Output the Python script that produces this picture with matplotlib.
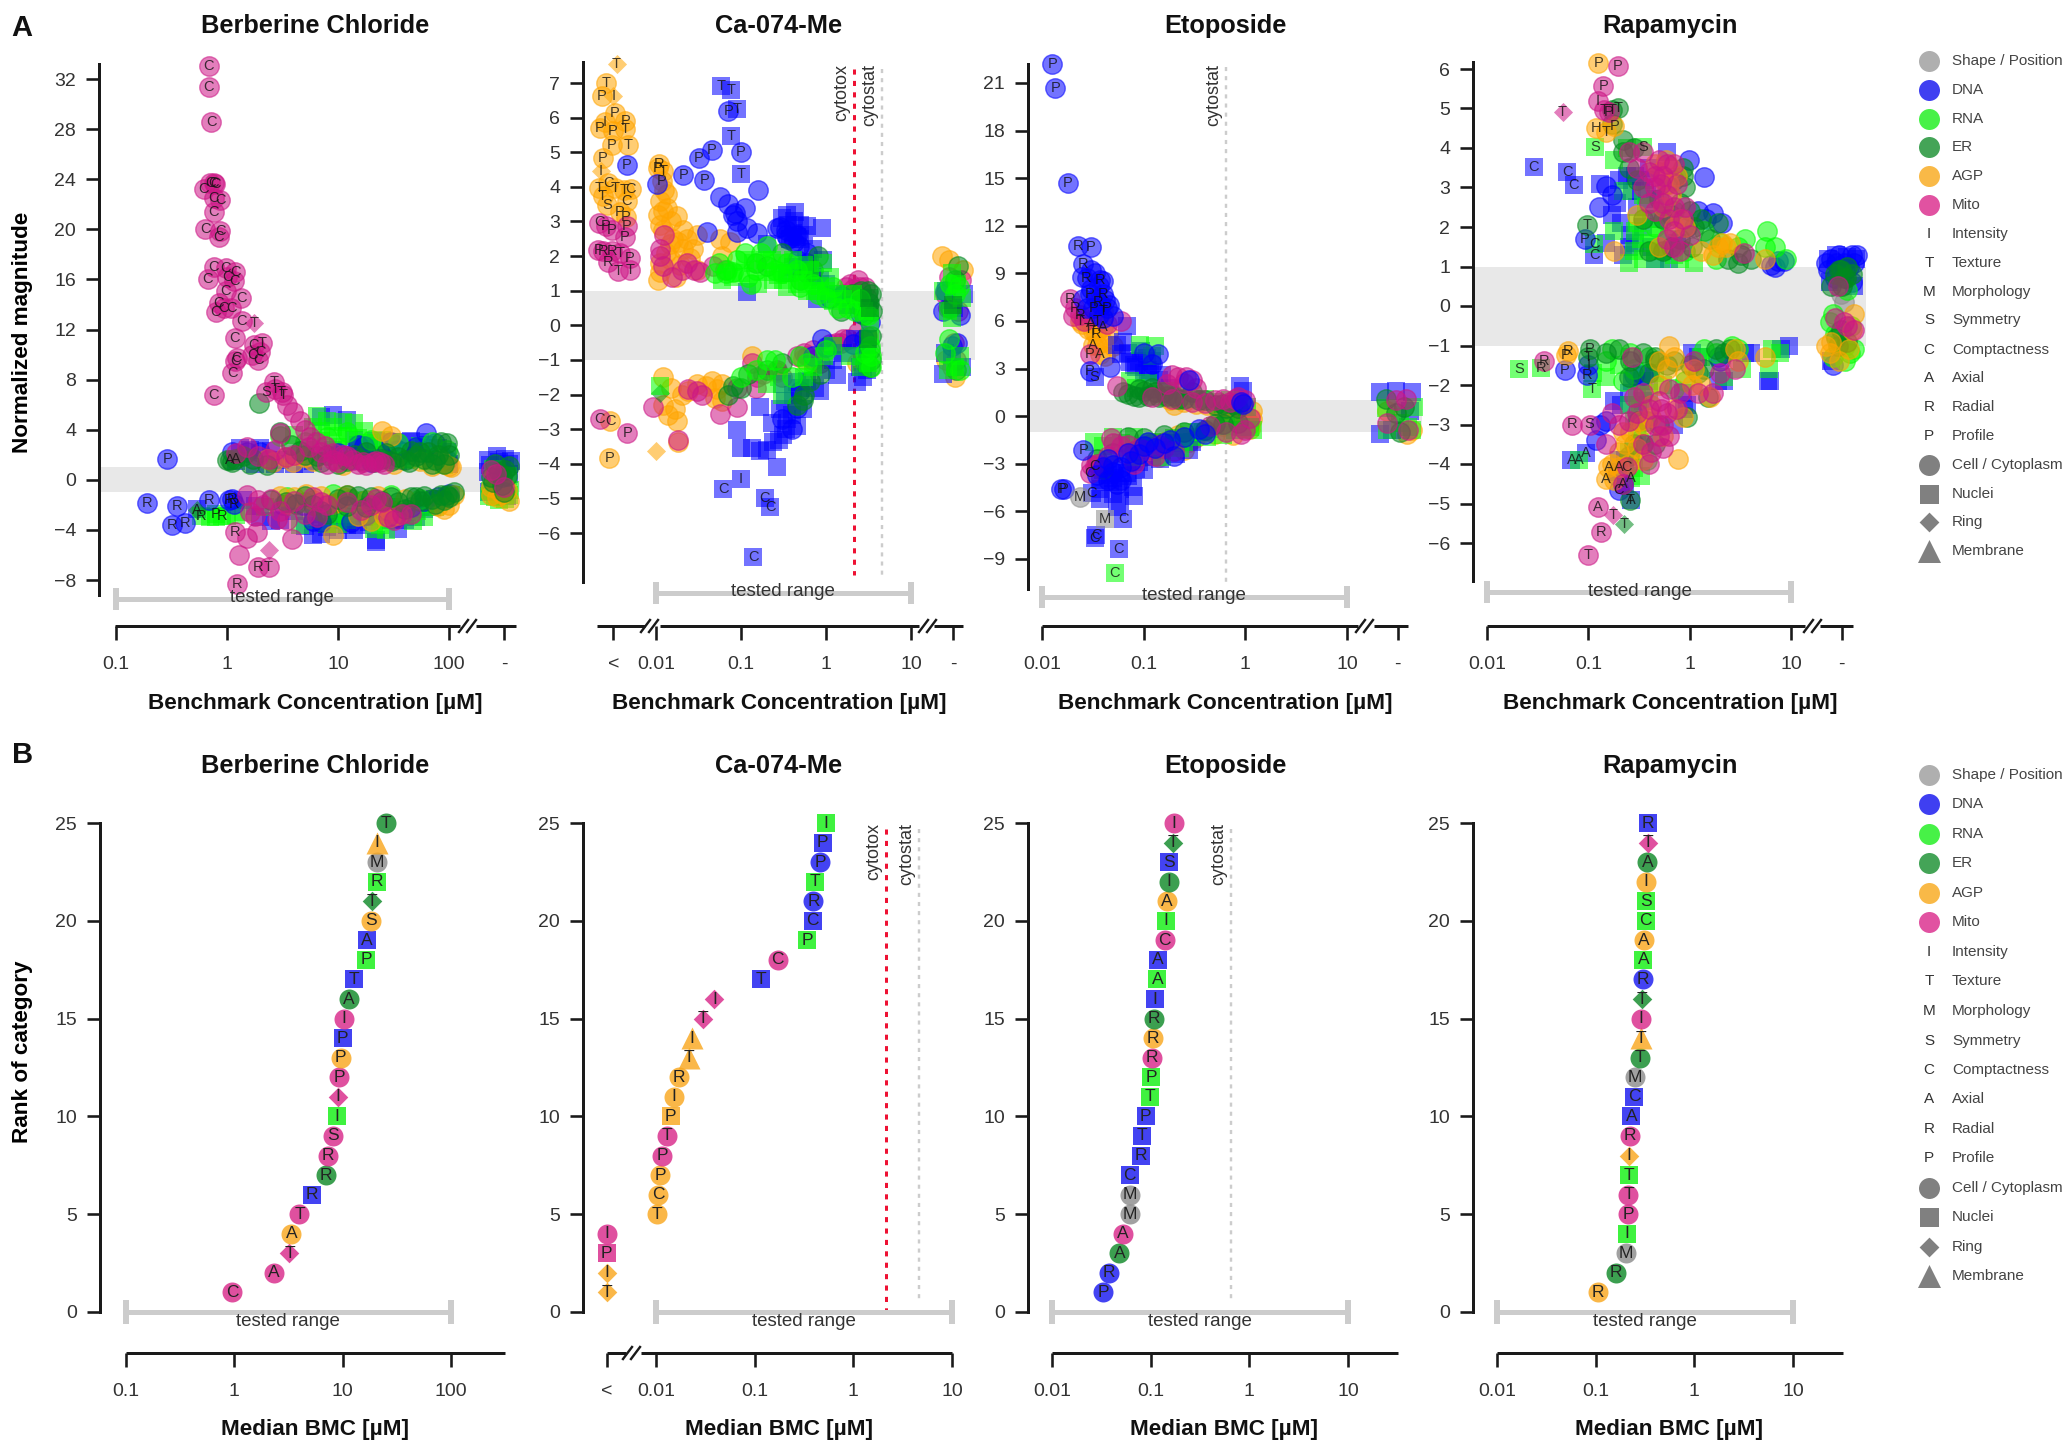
import math
import matplotlib
matplotlib.use("Agg")
from matplotlib import pyplot as plt
from matplotlib.ticker import NullLocator
from matplotlib.transforms import blended_transform_factory

W, H = 2070, 1443
plt.rcParams["font.family"] = ["Liberation Sans", "DejaVu Sans"]

CH_A = {"grey": "#8c8c8c", "dna": "#0000ff", "rna": "#00ff00", "er": "#008a1e", "agp": "#ffa500", "mito": "#cc1585"}
CH_B = {"grey": "#8c8c8c", "dna": "#1a1af0", "rna": "#14f014", "er": "#118a2a", "agp": "#f9a820", "mito": "#d92a8a"}

# ---- panel A, Berberine Chloride
ber_mito_o = [(.684,33,"C"),(.684,31.4,"C"),(.718,28.6,"C"),(.71,23.7,"C"),(.76,23.7,"C"),(.786,23.6,"C"),(.62,23.2,"C"),(.76,22.5,"C"),
 (.87,22.3,"C"),(.76,21.4,"C"),(.64,20,"C"),(.87,19.9,"C"),(.84,19.4,"C"),(.76,17,"C"),(.97,16.9,"C"),(1.19,16.6,"C"),(1.01,16.2,"C"),
 (1.16,15.9,"C"),(.67,16,"C"),(.97,15.1,"C"),(1.34,14.5,"C"),(.84,14.1,"C"),(.79,13.4,"C"),(.93,13.7,"C"),(1.09,13.7,"C"),(1.36,12.7,"C"),
 (1.17,11.3,"C"),(1.23,9.7,"C"),(1.19,9.45,"C"),(1.11,8.5,"C"),(.76,6.8,"C"),(1.74,10.8,"C"),(2.06,10.9,"T"),(1.68,10,"C"),(2,10.2,"C"),
 (1.92,9.6,"C"),(2.66,7.8,"T"),(2.25,7,"S"),(2.7,7.25,"T"),(3.1,7,"T"),(3.2,6.8,"T"),(1.19,-4.2,"R"),(1.92,-7,"R"),(2.37,-6.95,"T"),
 (1.23,-8.3,"R"),(1.27,-6),(1.51,-4.65),(1.86,-4.2),(3.83,-4.7),(3.45,6),(3.97,5.4),(4.56,4.7),(5.05,3.95),(5.6,3.4),(6.4,3.05),(7.6,2.7),
 (9,2.1),(11.2,1.95),(13.7,1.6),(16.9,1.4),(20.8,1.4),(23.9,1.4),(1.5,2.6),(3,3.7),(7,2.2),(9,1.6),(15,1.3),(22,1.5),(3.4,1.8),(1.9,1.9),
 (2.4,1.7),(1.6,-2.6),(1.8,-2.9),(2.1,-2),(2.5,-1.5),(3.5,-3.2),(3,-2.5),(5,-2.7),(7,-1.8),(8,-2),(20,-2),(22,-1.5),(28,-3),(32,-3.2),
 (38,-2.7),(1.5,-1.2),(6,-1.4),(240,.8),(265,.5),(310,-.6),(10,1.4),(12,1.9),(18,1.2),(26,1.3),(1.2,2.1),(2.7,2.4),(4,2),(5.5,2.6),(8,1.3),
 (4,-1.7),(2.8,-3.1),(1.9,-1.6),(6.5,-3),(16,-2.4),(25,-1.8),(45,-2.7),(12,-1.8)]
ber_mito_d = [(1.76,12.5,"T"),(2.37,-5.6)]
ber_dna_s = [(1.3,2.5),(1.6,2.4),(2,2.5),(2.5,2.3),(3,1.6),(4,1.3),(7,5),(9,5.2),(12,4.8),(15,2.8),(18,2.7),(22,3.1),(30,3),(40,2.3),(45,3.1),
 (60,2.5),(70,2),(13,1.5),(20,1.8),(28,1.6),(35,1.5),(90,1.6),(100,1.3),(.54,-2.3),(2,-3),(2.5,-3.3),(3,-3.2),(5,-3.7),(6,-4.4),(7,-4.3),
 (8,-3.8),(10,-4),(12,-3.6),(14,-4),(17,-3),(22,-4.8),(22,-5),(30,-3.2),(35,-3.9),(40,-3.2),(50,-3),(60,-2.3),(70,-2.2),(80,-1.6),(90,-1.5),
 (1.4,-1.6),(1.8,-2.1),(20,-2),(225,1.6),(270,1.9),(320,1.7),(365,1.5),(225,.6),(300,.9),(350,.5),(1.2,1.5),(1.8,1.3),(2.7,1.3),(5,1.3),(6,1.5),
 (9,2.4),(11,2),(14,3.2),(16,2.1),(19,2.5),(25,2),(32,2.4),(38,3),(50,1.9),(55,3),(65,2.8),(80,2.5),(95,2.2),(4,-2.5),(9,-2.8),(11,-3.2),(15,-3.6),
 (19,-3.4),(24,-2.5),(28,-2.4),(42,-2.6),(55,-2.2),(75,-1.5),(3.7,-1.9),(6,-2.7),(235,1.2),(345,1.3),(285,1.4),(230,-1),(330,-1.3)]
ber_dna_o = [(.29,1.65,"P"),(1.1,2.2),(1.5,2.2),(2,2.2),(10,2.1),(15,2.8),(17,2.7),(30,3),(50,2.6),(62,3.7),(75,2.9),(85,2),(95,1.6),(35,2.4),
 (20,1.4),(.19,-1.83,"R"),(.356,-2.1,"R"),(.32,-3.6,"R"),(.417,-3.45,"R"),(.684,-1.65,"R"),(1.1,-1.55,"R"),(1.15,-1.9,"R"),(1.05,-1.6,"R"),
 (3.2,-2),(4.8,-2),(6,-3.3),(7,-3.4),(13,-3.4),(18,-2.8),(25,-2.4),(33,-3),(45,-2.2),(60,-1.7),(80,-1.4),(100,-1.1)]
ber_rna_s = [(6.5,5.1),(8,4.7),(11,4.6),(14,4.5),(17,3.9),(7,3.9),(10,3.5),(25,3.2),(40,1.6),(55,2.7),(80,1.9),(90,1.2),(4,3.6),(.58,-2.9,"R"),
 (.9,-2.9,"R"),(.79,-2.7,"P"),(.7,-3),(1,-2.9),(1.2,-2.8),(4.5,-3.6),(8,-3.5),(11,-2.7),(14,-3),(17,-2.5),(27,-4),(24,-3.6),(35,-2.4),(47,-3.3),
 (60,-3),(75,-2.2),(95,-1.3),(105,-1.2),(235,-.9),(260,-1.4),(350,-1.2),(290,-.7),(340,.3),(250,.9),(6,4.2),(9,4.2),(12,3.5),(15,3.3),(19,2.9),
 (28,2.7),(34,2.1),(45,1.7),(65,1.5),(5,2.4),(7,3.1),(10,2.6),(4,-2.2),(6,-3.2),(10,-3.5),(12,-3.2),(19,-2.9),(21,-3.9),(30,-2.2),(42,-2.8),(52,-2.5),
 (65,-1.9),(85,-1.5),(1.4,-2.6),(2.2,-2.2),(.8,-3),(230,-1.3),(280,-1.6),(320,-1.5),(355,-.8)]
ber_rna_o = [(3,3.5),(5,3),(8,3.4),(12,3.8),(20,3.2),(35,2.9),(70,3),(95,2.4),(3.5,-1.4),(5,-1.8),(9,-1.1),(13,-1.5),(16,-1.7),(30,-1.2),(55,-1.5)]
ber_er_o = [(1.96,6.1),(1.07,1.6,"A"),(1.19,1.7,"A"),(1,1.6),(1.4,1.9),(1.7,1.7),(3,3.8),(5,2),(6.5,1.9),(8,2),(14,2),(18,2.2),(25,1.7),(30,1.5),
 (40,1.6),(50,1.9),(60,1.7),(75,1.6),(85,3),(95,2.9),(100,2),(45,2.3),(70,1.3),(2.5,-1.6),(3.4,-1.8),(4.2,-1.9),(7,-2.5),(10,-1.5),(15,-1.3),
 (25,-1.7),(30,-1.4),(50,-1.4),(55,-1.7),(70,-1.5),(90,-1.6),(100,-1.4),(110,-1),(85,-1.2),(320,.8),(260,1.3),(350,1.1),(300,-.4),(240,.2),(1.1,1.4),
 (1.6,1.3),(2.3,1.2),(3.8,2.8),(4.5,2.3),(7,1.4),(10,1.3),(12,1.5),(16,1.6),(21,1.4),(27,2.1),(35,1.8),(44,1.4),(55,2.2),(65,2.2),(80,2),(90,1.3),(6,-2),
 (8,-2.7),(12,-2.1),(18,-2.2),(20,-1.4),(35,-1.8),(40,-2.3),(45,-1.4),(60,-1.3),(75,-1.9),(95,-1.2),(12,-1.2),(5,-1.3),(280,.6),(330,.3),(300,.2),(250,-.2),(315,-1)]
ber_er_d = [(.54,-2.4,"A")]
ber_agp_o = [(2.3,1.7),(3.3,1.8),(4.2,2),(5,1.8),(25,3.9),(100,1.1),(90,1.3),(105,1),(30,3.5),(55,1.5),(3,-1.3),(4,-1.4),(5.2,-1.1),(6,-1.6),(8,-1.9),
 (9,-1.9),(11,-1.4),(12,-1.2),(9,-4.4),(20,-3.3),(23,-1.3),(26,-2.9),(28,-2.3),(30,-3),(35,-2.8),(90,-2.3),(100,-2),(40,-1.5),(240,-.6),(280,-.9),
 (315,-.5),(350,-1.7),(270,-.3),(300,-1.1),(255,.4),(2.6,1.4),(3.9,1.4),(6,1.5),(11,1.2),(32,1.3),(70,1.1),(85,1.6),(3.5,-1.9),(7,-1.3),(10,-1.8),(15,-2.9),
 (18,-1.6),(24,-2),(110,-1.2),(80,-2.1),(295,-.3),(330,-.8),(270,-1.4),(240,-1.2)]
ber_series = [("dna","s",ber_dna_s),("rna","s",ber_rna_s),("dna","o",ber_dna_o),("rna","o",ber_rna_o),("agp","o",ber_agp_o),("er","o",ber_er_o),
 ("er","D",ber_er_d),("mito","o",ber_mito_o),("mito","D",ber_mito_d)]

# ---- panel A, Ca-074-Me
ca_agp_o = [(.00258,7,"T"),(.00229,6.63,"P"),(.00325,6.13,"P"),(.00252,5.86,"I"),(.00436,5.9,"P"),(.00219,5.7,"P"),(.0031,5.6,"P"),(.00433,5.66,"T"),
 (.00472,5.2,"T"),(.00303,5.2,"P"),(.00235,4.83,"P"),(.00215,3.97,"T"),(.00274,4.1,"C"),(.00328,3.97,"T"),(.00505,3.94,"C"),(.00419,3.9,"T"),
 (.00235,3.74,"T"),(.00452,3.58,"C"),(.00268,3.47,"S"),(.00377,3.28,"P"),(.00445,3.14,"P"),(.00288,-2.76,"C"),(.00282,-3.83,"P"),(.0109,4.67,"R"),
 (.0105,4.55,"P"),(.0122,4.47,"T"),(.0117,4.18,"P"),(.0111,3.6),(.0133,3.8),(.012,3.3),(.0175,3.15),(.021,2.75),(.012,2.75),(.0146,2.35),(.0111,1.55),
 (.0106,1.3),(.021,2.2),(.025,1.95),(.019,1.75),(.057,2.5),(.074,2.4),(.0111,1.8),(.012,-1.5),(.012,-2.3),(.0167,-2.43),(.0175,-2.76),(.024,-1.9),
 (.039,-1.76),(.052,-1.83),(.0183,-3.36),(.133,-.9),(.263,-1.34),(.54,-.97),(2.3,-1.1),(.71,-1.1),(23,2),(28,1.9),(41,1.6),(26,-1),(33,-1.5),(30,-1.2),
 (.0105,3.2),(.011,2.9),(.0125,3.9),(.0135,3.4),(.015,3),(.016,2.5),(.013,2.1),(.018,2.4),(.023,2.5),(.027,2.2),(.03,2.6),(.015,1.9),(.017,1.4),(.03,1.6),
 (.06,2),(.045,-1.6),(.05,-2.1),(.06,-1.7),(.02,-2),(.015,-1.8),(.03,-1.7),(.06,-2.2),(.014,-2.6)]
ca_agp_d = [(.00343,7.56,"T"),(.00315,6.63,"I"),(.00225,4.47,"I"),(.01,-3.62)]
ca_mito_o = [(.00215,2.97,"C"),(.00258,2.88,"P"),(.00303,2.75,"P"),(.00452,2.88,"P"),(.00433,2.55,"P"),(.00209,2.19,"P"),(.0024,2.15,"R"),(.00303,2.15,"R"),
 (.00377,2.08,"T"),(.00495,1.95,"P"),(.00275,1.82,"R"),(.00361,1.58,"T"),(.00495,1.59,"T"),(.00219,-2.72,"C"),(.0046,-3.12,"P"),(.0111,2),(.0111,2.2),
 (.023,1.8),(.033,1.55),(.047,1.7),(.0153,1.4),(.0093,-2.36),(.0183,-3.3),(.024,-1.85),(.057,-2.56),(.089,-2.36),(.089,-1.8),(.133,-1.1),(.153,-1.5),
 (.263,-1.3),(.6,-.9),(.71,-.7),(.85,-1.1),(1.6,.9),(1.9,1.2),(2.1,1.05),(2.5,1.1),(2.9,1.1),(1.5,-.5),(1.8,-.4),(32,-.5),(28,1.4),(36,.4),(.0125,2.6),
 (.012,1.7),(.02,1.6),(.028,1.6),(.065,1.6),(.03,-1.9),(.035,-2),(.15,-1.8),(.18,-1.4),(.3,-1.5),(.45,-.9),(.55,-.8),(.7,-1),(1.1,-.55),(1.3,-.5),(1.6,-.4),
 (2.4,1.3),(1.7,1.1),(3,.8),(2.6,.7),(2.4,-.2),(3,-.3),(25,.9),(34,-1),(39,1.3),(27,.5)]
ca_dna_o = [(.00452,4.63,"P"),(.021,4.34,"P"),(.037,4.2,"P"),(.032,4.83,"P"),(.045,5.07,"P"),(.099,5,"P"),(.071,6.2,"P"),(.157,3.9),(.057,3.7),(.112,3.4),
 (.081,3.2),(.085,3.25),(.09,3),(.117,2.8),(.153,2.68),(.0395,2.7),(.263,2.8),(.0102,4.07),(.45,2.6),(.34,2.6),(.29,2.85),(.45,1.9),(.6,1.8),(1.55,.85),
 (1.01,-.64),(1.1,.8),(2.1,-.55),(2.8,-.4),(24,.4),(38,.3),(30,-.6),(.34,2.75),(.36,2.5),(.42,2.4),(.48,2.3),(.6,2.1),(.07,3.5),(.09,2.7),(.3,-2.7),(.4,-3),
 (.5,-1.9),(.7,-.9),(.9,-.4),(2.5,.35),(3.3,.1),(.45,-2.4),(25,1),(35,-.5)]
ca_dna_s = [(.058,6.9,"T"),(.076,6.8,"T"),(.089,6.26,"T"),(.076,5.46,"T"),(.1,4.36,"T"),(.345,3.2),(.43,3.27),(.89,2.8),(.59,2.88),(.41,2.68),(.45,2.55),
 (.117,.96),(.78,.76),(.41,1.68),(.65,1.75),(.93,1.88),(.5,2.5),(.71,2.2),(.2,2.35),(.062,-4.72,"C"),(.1,-4.44,"I"),(.19,-5,"C"),(.22,-5.25,"C"),(.14,-6.7,"C"),
 (.167,-2.36),(.089,-3.02),(.1,-3.55),(.133,-3.55),(.167,-3.62),(.2,-3.6),(.263,-4.08),(.315,-3.16),(.24,-3.36),(.23,-2.82),(.345,-2.7),(.54,-2.43),(.288,-2.43),
 (.41,-2),(.45,-1.63),(.85,-1.9),(1.33,-1.43),(2.3,-1.63),(2.7,-1.5),(2.2,-.4),(3,-.7),(24,-1.4),(40,-1.2),(26,1),(42,.9),(.3,3.1),(.36,2.9),(.38,2.5),(.42,3),
 (.5,2.9),(.55,2.6),(.7,1.4),(.85,1.3),(1,1.2),(1.3,.9),(1.8,.6),(.35,1.5),(.3,-1.7),(.34,-3),(.28,-3.3),(.33,-2.2),(.4,-2.6),(.45,-2.9),(.5,-1.8),(.6,-1.6),
 (.75,-1.8),(1,-1.3),(1.2,-1),(1.6,-.8),(2.5,-1.2),(3,-1.3),(2.6,-.9),(30,-.9),(25,-.8),(32,.5)]
ca_rna_s = [(.081,1.4),(.14,1.8),(.2,1.55),(.24,1.3),(.345,1.1),(.288,1.8),(.54,1.3),(.85,1.15),(1.11,1.4),(1.33,.9),(1.6,.75),(.41,1.9),(.65,1.6),(.93,1.8),
 (2.1,.9),(.0111,-1.75),(.3,-2),(.7,-1.2),(1.2,-.6),(2.6,-1.2),(3.1,-1.1),(24,1),(40,.8),(30,1.5),(27,-1.3),(38,-.9),(.06,1.3),(.1,1.5),(.11,1.9),(.16,1.2),
 (.19,1.9),(.23,1.9),(.27,1.45),(.31,1.3),(.38,1.5),(.45,1.2),(.55,1.75),(.6,1),(.75,1),(1,1),(1.2,.7),(2.8,.4),(3.3,.2),(.2,-1.7),(.28,-1.5),(.55,-1.5),
 (.95,-.9),(1.9,-.9),(3.3,-.3),(35,1.2),(30,.2),(33,-1.2),(27,.4)]
ca_rna_o = [(.068,1.6),(.09,1.9),(.11,2.1),(.067,1.5),(.17,2.1),(.2,2.3),(.12,1.4),(.3,1.5),(.45,1.6),(.7,1.2),(1.2,1.1),(.055,1.8),(1.8,.5),(.08,1.55),(2.5,.75),
 (.1,-1.5),(.2,-1),(.4,-1.5),(.6,-1.1),(3.3,-.6),(3.4,-1.2),(2.9,-.8),(33,.9),(28,-.4),(.05,1.5),(.13,1.2),(.15,1.6),(.25,1.6),(.35,1.8),(.5,1.1),(.8,.9),(1,.8),
 (1.4,.5),(2.2,.4),(3.1,.3),(3.4,-.9),(.15,-1.3),(.25,-1),(.5,-.9),(1,-.7),(29,1.2),(37,1.1),(25,-.8),(38,-1.3)]
ca_er_o = [(2,.9),(2.4,.6),(3.2,.65),(3.4,.9),(3.1,1),(2.8,.3),(1.5,.4),(.6,1.5),(.3,2.1),(.15,1.8),(.081,-1.76),(.54,-2.16),(.1,-1.8),(.3,-1.1),(.85,-1.4),
 (2.9,-1.1),(3.3,-1.2),(3.4,-.3),(36,1.7),(33,1.3),(29,.5),(34,-1.3),(2.6,1),(3,.5),(3.5,.4),(3.3,-.7),(3.4,-1),(.12,-1.4),(.2,-1.3),(.45,-2.3),(.55,-2),(.65,-1.6),
 (.2,1.7),(.5,1.3),(.7,1.6),(.8,2),(.07,-2)]
ca_er_s = [(3.3,.5),(3.2,.8),(3.1,-.4),(31,.6)]
ca_er_d = [(.011,-1.95)]
ca_series = [("agp","o",ca_agp_o),("agp","D",ca_agp_d),("mito","o",ca_mito_o),("dna","s",ca_dna_s),("dna","o",ca_dna_o),("er","o",ca_er_o),
 ("er","D",ca_er_d),("rna","s",ca_rna_s),("rna","o",ca_rna_o),("er","s",ca_er_s)]

# ---- panel A, Etoposide
eto_dna_o = [(.0126,22.2,"P"),(.0135,20.7,"P"),(.018,14.7,"P"),(.0225,10.75,"R"),(.03,10.65,"P"),(.0254,9.6,"R"),(.0274,8.7,"R"),(.037,8.6,"R"),(.0399,7.7,"R"),
 (.0295,7.7,"P"),(.0431,6.85,"P"),(.0319,6.85,"P"),(.0254,7.4),(.0295,2.85,"P"),(.0466,3.07),(.137,3.9),(.28,2.3),(.9,.9),(.95,.8),(.0254,-2.15,"P"),
 (.0165,-4.6,"P"),(.0155,-4.6,"P"),(.04,-3.2),(.05,-3.5),(.06,-3.2),(.07,-2.3),(.1,-1.9),(.13,-2),(.16,-1.7),(.2,-2.5),(.055,-4.3),(.025,8.8),(.03,9.2),(.033,9),
 (.036,8.2),(.04,8.5),(.03,8),(.034,7.4),(.038,7),(.042,7.3),(.046,7),(.028,6.8),(.036,6.4),(.04,6.2),(.05,6.3),(.1,4),(.12,3.3),(.035,-3.7),(.045,-4),(.05,-3.1),
 (.06,-4),(.075,-2.8),(.09,-2.4),(.11,-1.6),(.045,-2.7),(.18,-1.5),(.25,-1.3),(.35,-.8),(.4,-1.1)]
eto_dna_s = [(.033,2.5,"S"),(.068,5.7),(.063,4.7),(.055,4.5),(.107,3.65),(.073,3.4),(.085,3.1),(.116,2.8),(.07,4),(.09,3.5),(.1,2.7),(.89,1.9),(.95,1.6),
 (.0308,-4.84,"C"),(.0632,-6.5,"C"),(.033,-7.7,"C"),(.034,-7.5,"C"),(.057,-8.4,"C"),(.037,-5.2),(.058,-5.33),(.079,-4.46),(.037,-4),(.047,-4.17),(.058,-4.6),
 (.068,-3.6),(.085,-3.3),(.145,-2.7),(.21,-2.4),(.09,-2.9),(.12,-2.6),(.04,-3.4),(21,1.5),(30,1.6),(44,1.5),(21,-1.1),(28,-.9),(42,.3),(.06,3.9),(.08,3.2),(.095,4.1),
 (.11,2.9),(.12,3.5),(.14,2.3),(.15,2.6),(.18,1.8),(.05,-4.9),(.055,-5.7),(.07,-3.8),(.045,-3.7),(.08,-5),(.1,-3.4),(.15,-2.1),(.2,-1.7),(.28,-2.1),(.3,-1.6),
 (.038,-4.6),(.05,-3.9),(.06,-3.6)]
eto_mito_o = [(.0188,7.36,"R"),(.0211,6.85,"R"),(.0235,6.4,"R"),(.0295,3.9,"P"),(.033,-3.15,"C"),(.0295,-3.6,"C"),(.22,2.5),(.26,2.5),(.3,2.3),(.17,2),(.3,.9),
 (.5,1),(.6,1.1),(.8,1.1),(1,1),(.12,1.2),(.19,1.1),(.055,1.9),(.048,-1.4),(.06,-1.9),(.07,-1.8),(.09,-2),(.1,-2.1),(.035,-3),(.16,-2),(.13,-2.5),(.65,-1),
 (.9,-1.1),(1,-.9),(30,1),(38,1.1),(25,-.4),(40,-.9),(.02,6.3),(.026,6),(.031,6.3),(.044,5.8),(.06,6),(.19,2.6),(.25,2.1),(.33,1.8),(.4,.85),(.7,.9),(.85,1.2),
 (.05,-1.7),(.065,-2.4),(.08,-3),(.045,-2.5),(.03,-3.1),(.2,-2.2),(.14,-1.8),(1.1,-.1),(.45,-.6)]
eto_agp_o = [(.0235,6,"T"),(.0284,5.5,"T"),(.0319,5.4,"T"),(.0319,4.5,"A"),(.037,3.95,"A"),(.03,5.9,"A"),(.034,5.2,"R"),(.036,7.2,"R"),(.04,6.6,"T"),(.035,6,"T"),(.04,5.6,"A"),
 (.25,.9),(.33,.8),(.42,.7),(.9,.2),(1.05,-.3),(1.1,-.5),(1.15,.3),(1,-.7),(.75,.6),(.55,.3),(.1,-2.5),(.13,-2.2),(.16,-1.6),(.2,-1.8),(.25,-2.1),(.32,-1.4),(.5,-1.1),
 (.75,-1.2),(1,-.5),(1.1,-.8),(.035,-3),(44,-.9),(39,-1.1),(25,.3),(.025,5.8),(.035,4.5),(.04,4.7),(.045,5.1),(.05,4.4),(.042,3.8),(.18,1),(.2,.7),(.6,.4),(.7,.1),
 (.95,.5),(.9,-.7),(1.15,-.2),(.12,-1.7),(.14,-2.6),(.22,-1.2),(.28,-1.6),(.38,-1),(.6,-.6)]
eto_rna_s = [(.0922,4.5),(.0733,2.2),(.085,1.8),(.12,1.3),(.17,1.2),(.21,1.1),(.3,1.1),(.5,.9),(.7,1),(.13,4.4),(.052,-9.9,"C"),(.0325,-1.6),(.04,-1.9),(.06,-1.7),
 (.08,-2.6),(.12,-1.6),(.2,-1.4),(.23,-2),(.3,-1.3),(.35,-1),(.42,-1.3),(.5,-.6),(.6,-1.2),(.8,-.9),(1.2,-.9),(24,.5),(33,-.4),(40,-.7),(25,-.9),(44,-.9),(46,.6),
 (.11,2.1),(.15,1.4),(.18,1.6),(.25,1.3),(.4,1.1),(.6,.8),(.85,.7),(.12,3.8),(.11,-1.9),(.15,-2.6),(.25,-1.6),(.28,-1),(.38,-1),(.45,-.8),(.65,-.6),(.9,-.7),(1.1,-.7),
 (1.05,.6),(.08,-1.3),(.05,-1.3)]
eto_er_o = [(.063,1.5),(.07,1.4),(.1,1.6),(.13,1.5),(.16,1.5),(.2,1.3),(.25,1.1),(.4,1),(.6,.8),(.65,.5),(.12,1.8),(.09,1.7),(.05,-2.3),(.035,-2.7),(.07,-1.3),
 (.4,-.9),(.6,-.5),(24,1.1),(30,.2),(36,.6),(33,-1),(.08,1.3),(.09,1.2),(.11,1.3),(.14,1.2),(.17,1.3),(.22,1.1),(.3,1.5),(.35,1),(.5,.7),(.75,.8),(.85,.5),(.04,-3.3),
 (.08,-2.2),(.1,-1.4),(.16,-1.2),(.25,-1),(.5,-.5),(.85,-.4)]
eto_grey_o = [(.0235,-5.1,"M")]
eto_grey_s = [(.0416,-6.5,"M")]
eto_series = [("agp","o",eto_agp_o),("dna","s",eto_dna_s),("rna","s",eto_rna_s),("er","o",eto_er_o),("mito","o",eto_mito_o),("dna","o",eto_dna_o),
 ("grey","o",eto_grey_o),("grey","s",eto_grey_s)]

# ---- panel A, Rapamycin
rap_dna_s = [(.029,3.53,"C"),(.0616,3.38,"C"),(.072,3.07,"C"),(.114,1.28,"C"),(.068,-3.9,"A"),(.094,-3.73,"A"),(.265,-4.9,"A"),(.13,3.1),(.21,2.1),(.24,3.3),(.29,3.3),
 (.25,1.5),(.29,1.6),(.33,2.9),(.38,2.8),(.4,3.5),(.6,3.9),(.42,1.5),(.62,1.2),(.75,1.6),(.2,3.2),(.17,2.3),(.3,2.5),(.18,-2.4),(.21,-2.5),(.31,-2.5),(.35,-2.4),
 (.88,-2.6),(.95,-2.5),(.23,-3.9),(.2,-3.9),(1.05,-1.2),(1.2,-1.3),(3.5,-1.2),(4,-1.2),(5.9,-1.9),(6.2,-1.9),(1.9,-1.9),(2.2,-1.9),(9.5,-1),(8,-1.1),
 (23,1.2),(28,1.3),(36,1.25),(44,1.2),(24,.6),(42,.5),(.19,2.6),(.26,1.8),(.35,2),(.45,2.7),(.5,2.2),(.27,2.9),(.36,3.2),(.15,1.6),(.22,1.3),(.45,1.2),(.55,1.4),
 (.27,-1.9),(.34,-1.7),(.25,-2.2),(.4,-1.9),(.7,-3),(.85,-2.2),(.19,-4.2),(.23,-4.5),(.3,-2.9),(25,-1.4)]
rap_dna_o = [(.0917,1.69,"P"),(.0587,-1.63,"P"),(.1,-1.5,"I"),(.098,-1.75,"R"),(.15,3.05),(.17,2.8),(.128,2.5),(.99,3.7),(1.4,3.27),(1.7,2.35),(1.45,2.2),(6.3,1.05),
 (7.5,1.15),(8.6,1.15),(7,1),(2.1,2.1),(1.2,2.4),(.28,-1.75),(.35,-1.75),(.15,-2.9),(.12,-3.4),(1.9,-1.3),(2,-1.4),(.13,-3),(.19,-4.3),(.22,-4.5),(.2,-4.67,"C"),
 (26,-1.5),(40,1.3),(30,1.3),(22,1.1),(25,1.2),(28,1.1),(33,1.1),(37,1),(42,1.1),(45,1.3),(23,.9),(27,.7),(34,.9),(40,.6)]
rap_rna_s = [(.117,4.03,"S"),(.345,4.03,"S"),(.114,1.57,"C"),(.034,-1.57,"R"),(.0208,-1.6,"S"),(.0815,-3.9,"A"),(.108,-2.1,"T"),(.3,2.1),(.35,1.2),(.4,1.6),(.5,1.8),
 (.62,1.7),(.29,1.9),(.37,2.5),(.8,1.2),(1.1,1.1),(.22,2.9),(.18,3.7),(.24,4),(.3,-2.3),(.35,-2.2),(.11,-1.7),(.15,-1.8),(.2,-1.5),(.32,-2.6),(.25,-3.7),(.28,-4.1),
 (2.2,-1.8),(6.5,-1.1),(7.8,-1.2),(6,-1.6),(.265,-4.35,"A"),(.28,1.4),(.33,1.7),(.45,1.4),(.52,1.2),(.35,2.8),(.42,2.2),(.55,2.3),(.7,1.3),(.18,1.9),(.25,1.1),(.28,-2.9),
 (.33,-1.9),(.4,-2.2),(.25,-2.5),(.45,-1.7),(.55,-2),(1.3,-1.3),(3.3,-1.6),(.3,-3.2),(.33,-4.3),(.27,-1.3)]
rap_rna_o = [(.45,2),(.7,2.4),(.9,1.4),(1.4,1.9),(1.8,1.2),(3,1.5),(3.5,1.7),(5.5,1.5),(5.8,1.9),(7,1.5),(9,1.2),(2,1.6),(.6,3.1),(.17,-1.1),(.22,-1.9),(.26,-1.2),
 (.28,-1.6),(.4,-1.3),(.7,-2.1),(.9,-1.9),(1.4,-1.1),(1.8,-1.2),(2.6,-1),(3,-1.1),(.32,-3.4),(.38,-3.9),(.15,-1.4),(30,-.9),(38,-1.2),(26,-.2),(36,.4),(24,-.4),(27,-.7),
 (34,-1),(42,-1.1),(39,-.5),(26,-1.3),(34,-1.4)]
rap_er_o = [(.098,2.04,"T"),(.196,5,"T"),(.17,4.95,"T"),(.26,-4.9,"T"),(.103,-1.1,"P"),(.1,-1.3,"T"),(.17,4.6),(.22,3.9),(.25,3.5),(.3,3.2),(.7,3.2),(.85,3.3),(.9,3),(.95,2),
 (1.05,1.5),(1.3,2.2),(1.9,2.1),(3,1.1),(3.2,1.3),(4,1.2),(.55,2.2),(.8,1.7),(.45,-1.3),(.31,-2.9),(.46,-1.4),(.6,-1.5),(.95,-2.8),(1.2,-1.7),(1.8,-1.1),(2.2,-1.2),
 (.35,-3.5),(.26,-1.4),(.38,-2.9),(1.5,-2.3),(30,.9),(35,.7),(28,-.8),(32,.5),(.5,2.7),(.65,2.3),(.8,2.6),(.85,3.5),(1,2.4),(.35,2.2),(.4,1.4),(.55,1.4),(.65,1.5),(1.1,2),
 (1.6,1.7),(2.4,1.2),(.22,4.2),(.28,4),(.7,-1.4),(1,-1.5),(.15,-1.2),(.2,-1.1),(.25,-1.8),(.4,-1.7),(.5,-3),(.28,-3.5),(.25,-3.8),(.45,-3.5),(2.5,-1.1),(1.4,-1.6),(.35,-1.2),
 (27,.8),(31,.9),(36,1),(40,.8),(25,.5),(33,.7),(29,-1),(31,-.6),(36,-.9)]
rap_er_d = [(.223,-5.52,"T")]
rap_agp_o = [(.125,6.16,"P"),(.119,4.5,"H"),(.18,4.55,"P"),(.15,4.4,"T"),(.0635,-1.14,"R"),(.06,-1.25,"P"),(.158,-4.08,"A"),(.2,-4.08,"A"),(.15,-4.38,"A"),(.18,1.4),
 (.5,3.4),(.55,3.2),(.62,3.1),(.58,3.7),(.65,2.8),(.75,3.3),(.8,2.2),(1.9,1.5),(2.3,1.5),(2.5,1.6),(5.5,1.2),(.5,1.5),(.35,-3),(.2,-3.7),(.17,-4),(.23,-3.5),(.26,-3.2),
 (.32,-2.9),(.42,-2.8),(.62,-1),(.7,-1.3),(.9,-1.7),(1.1,-1.6),(1.05,-2),(1.6,-2.3),(2.8,-1.1),(5.6,-1.3),(.5,-1.4),(.76,-3.88),(.55,-3.3),(24,-1.2),(40,-.6),(30,-1.4),
 (.55,2.5),(.45,3.6),(.65,3.5),(.7,2),(.9,2),(1.3,1.4),(1.7,1.3),(2.1,1.6),(.3,2.3),(.42,-2.5),(.5,-2),(.3,-3.6),(.35,-3.9),(.22,-3.2),(.25,-4),(.18,-4.4),(.7,-2.6),
 (.6,-1.6),(.85,-2.8),(1.3,-2),(3,-1.4),(25,-.9),(37,-1.1),(42,-.2),(22,-1)]
rap_mito_o = [(.196,6.07,"P"),(.141,5.57,"P"),(.125,5.19,"I"),(.143,4.96,"T"),(.16,4.9,"P"),(.0367,-1.4,"R"),(.069,-3,"R"),(.103,-3,"S"),(.125,-5.08,"A"),(.133,-5.72,"R"),
 (.1,-6.3,"T"),(.22,-4.5,"A"),(.24,-4.08,"C"),(.5,3.7),(.6,3.6),(.7,3.6),(.45,3.3),(.75,3.1),(.55,2.6),(.7,2.5),(.9,2.5),(.62,2.2),(.45,3),(1,1.8),(3.4,1.35),(.35,3.9),
 (.8,1.4),(.7,1.5),(.17,-2.7),(.2,-3),(.25,-2.9),(.4,-2.6),(.5,-2.4),(.55,-3),(.5,-3.3),(.62,-3.3),(.4,-4),(.42,-3.7),(.8,-2.2),(.62,-2.1),(1.7,-2.2),(2.8,-1.6),
 (.27,-1.3),(.52,-2.6),(1.1,-1.4),(27,-.3),(36,-.5),(.4,3.4),(.45,2.4),(.35,3),(.55,3.3),(.52,3.1),(.6,2.8),(.85,2.2),(.6,1.7),(.4,2.6),(.3,3.5),(.25,3.9),(.7,1.9),(.3,-2.7),
 (.35,-2.2),(.28,-2.3),(.45,-3),(.35,-3.5),(.6,-2.7),(.75,-2.6),(.55,-3.6),(1.2,-2.2),(2,-1.7),(.15,-3.5),(29,.5),(33,-.4),(42,-.6)]
rap_mito_d = [(.0557,4.9,"T"),(.174,-5.3,"T")]
rap_grey_o = [(33,.1),(31,.3)]
rap_series = [("grey","o",rap_grey_o),("dna","s",rap_dna_s),("rna","s",rap_rna_s),("dna","o",rap_dna_o),("rna","o",rap_rna_o),("er","o",rap_er_o),("er","D",rap_er_d),
 ("agp","o",rap_agp_o),("mito","o",rap_mito_o),("mito","D",rap_mito_d)]

# ---- panel B, median BMC by rank (rank = position + 1)
b_ber_x = [.95,2.31,3.23,3.37,3.99,5.24,6.95,7.35,8.11,8.89,9.09,9.29,9.62,9.98,10.2,11.5,12.7,16.5,16.7,18.1,18.6,20.7,20.8,20.8,25.2]
b_ber_lab = list("CATATRRRSIIPPPIATPASTRMIT")
b_ber_ch = ["mito","mito","mito","agp","mito","dna","er","mito","mito","rna","mito","mito","agp","dna","mito","er","dna","rna","dna","agp","er","rna","grey","agp","er"]
b_ber_sh = ["o","o","D","o","o","s","o","o","o","s","D","o","o","s","o","o","s","s","s","o","D","s","o","^","o"]

b_ca_x = [.00316,.00316,.00316,.00316,.0103,.0105,.011,.0115,.013,.0141,.0152,.0171,.0218,.023,.0302,.0391,.115,.171,.343,.388,.394,.41,.461,.491,.526]
b_ca_lab = list("TIPITCPPTPIRTITITCPCRTPPI")
b_ca_ch = ["agp","agp","mito","mito","agp","agp","agp","mito","mito","agp","agp","agp","agp","agp","mito","mito","dna","mito","rna","dna","dna","rna","dna","dna","rna"]
b_ca_sh = ["D","D","s","o","o","o","o","o","o","s","o","o","^","^","D","D","s","o","s","s","o","s","o","s","s"]

b_eto_x = [.033,.038,.0483,.0526,.0614,.0619,.0614,.0794,.0813,.0893,.0982,.101,.103,.1045,.1086,.1094,.117,.118,.139,.1416,.146,.154,.154,.169,.172]
b_eto_lab = list("PRAAMMCRTPTPRRRIAACIAISTI")
b_eto_ch = ["dna","dna","er","mito","grey","grey","dna","dna","dna","dna","rna","rna","mito","agp","er","dna","rna","dna","mito","rna","agp","er","dna","er","mito"]
b_eto_sh = ["o","o","o","o","o","o","s","s","s","s","s","s","o","o","o","s","s","s","o","s","o","o","s","D","o"]

b_rap_x = [.106,.161,.203,.207,.215,.215,.217,.219,.223,.23,.244,.251,.279,.287,.29,.296,.299,.304,.31,.322,.322,.326,.335,.338,.338]
b_rap_lab = list("RRMIPTTIRACMTTITRAACSIATR")
b_rap_ch = ["agp","er","grey","rna","mito","mito","rna","agp","mito","dna","dna","grey","er","agp","mito","er","dna","rna","agp","rna","rna","agp","er","mito","dna"]
b_rap_sh = ["o","o","o","s","o","o","s","D","o","s","s","o","o","^","o","D","o","s","o","s","s","o","o","D","s"]

# ---- legend
channels = ["Shape / Position","DNA","RNA","ER","AGP","Mito"]
channel_keys = ["#a6a6a6","#2a2af0","#33f033","#2f9a45","#f9b233","#de3f97"]
features = ["Intensity","Texture","Morphology","Symmetry","Comptactness","Axial","Radial","Profile"]
feature_keys = list("ITMSCARP")
compartments = ["Cell / Cytoplasm","Nuclei","Ring","Membrane"]
compartment_keys = ["o","s","D","^"]

fig = plt.figure(figsize=(W / 100, H / 100), dpi=100, facecolor="white")
over = fig.add_axes([0, 0, 1, 1], zorder=10)
over.set_xlim(0, W)
over.set_ylim(H, 0)
over.axis("off")
over.patch.set_alpha(0)


def px(v):
    return v * 72 / 100


def marker(shape, size):
    # size is the marker height in pixels
    if shape == "D":
        return "D", px(size * 0.98 / math.sqrt(2)) ** 2
    if shape == "s":
        return "s", px(size * 0.93) ** 2
    if shape == "^":
        return "^", px(size * 1.1) ** 2
    return "o", px(size) ** 2


def make_ax(left, right, top, bottom, xcal, ycal, axis_y):
    ax = fig.add_axes([left / W, 1 - bottom / H, (right - left) / W, (bottom - top) / H], zorder=2)
    ax.patch.set_alpha(0)
    ax.set_xscale("log")
    (v0, p0), (v1, p1) = xcal
    per = (p1 - p0) / (math.log10(v1) - math.log10(v0))
    ax.set_xlim(10 ** (math.log10(v0) + (left - p0) / per), 10 ** (math.log10(v0) + (right - p0) / per))
    (y0, q0), (y1, q1) = ycal
    per_y = (q1 - q0) / (y1 - y0)
    ax.set_ylim(y0 + (bottom - q0) / per_y, y0 + (top - q0) / per_y)
    for s in ["top", "right"]:
        ax.spines[s].set_visible(False)
    ax.spines["left"].set_linewidth(px(3))
    ax.spines["left"].set_color("#1a1a1a")
    ax.spines["bottom"].set_position(("outward", px(axis_y - bottom)))
    ax.spines["bottom"].set_visible(False)
    ax.xaxis.set_minor_locator(NullLocator())
    ax.tick_params(axis="x", length=px(14), width=px(2.6), color="#1a1a1a", pad=px(16), labelsize=14, labelcolor="#333333")
    ax.tick_params(axis="y", length=px(13), width=px(2.6), color="#1a1a1a", pad=px(10), labelsize=14, labelcolor="#333333")
    return ax


def axis_line(axis_y, segments, breaks):
    for x0, x1 in segments:
        over.plot([x0, x1], [axis_y, axis_y], color="#1a1a1a", lw=px(3), solid_capstyle="butt")
    for xb in breaks:
        over.plot([xb - 4, xb + 5], [axis_y + 6, axis_y - 6], color="#1a1a1a", lw=px(2.4))
        over.plot([xb + 4, xb + 13], [axis_y + 6, axis_y - 6], color="#1a1a1a", lw=px(2.4))


def tested(ax, x0, x1, y_px, cap, txt_x, txt_y):
    tr = blended_transform_factory(ax.transData, over.transData)
    ax.plot([x0, x1], [y_px, y_px], transform=tr, color="#cccccc", lw=px(5), clip_on=False, solid_capstyle="butt", zorder=1.5)
    for x in [x0, x1]:
        ax.plot([x, x], [y_px - cap, y_px + cap], transform=tr, color="#cccccc", lw=px(6), clip_on=False, solid_capstyle="butt", zorder=1.5)
    over.text(txt_x, txt_y, "tested range", ha="center", va="center", fontsize=13.5, color="#333333")


def vline(ax, val, y0, y1, col, lw):
    tr = blended_transform_factory(ax.transData, over.transData)
    ax.plot([val, val], [y0, y1], transform=tr, color=col, lw=px(lw), ls=(0, (1.7, 2.1)), clip_on=False, zorder=1.2)


def vlabel(txt, x, y0):
    over.text(x, y0, txt, rotation=90, ha="center", va="top", fontsize=13, color="#333333")


def draw_series(ax, series):
    for ch, sh, pts in series:
        xs = [p[0] for p in pts]
        ys = [p[1] for p in pts]
        m, s = marker(sh, 19.5)
        ax.scatter(xs, ys, marker=m, s=s, color=CH_A[ch], alpha=0.55, linewidths=1.0 if sh == "o" else 0, clip_on=False, zorder=3)
        for p in pts:
            if len(p) > 2:
                ax.text(p[0], p[1], p[2], ha="center", va="center", fontsize=10.5, color="#111111", alpha=0.8, clip_on=False, zorder=3.5)


def draw_rank(ax, xs, labs, chs, shs):
    ranks = list(range(1, 26))
    for x, r, lab, ch, sh in zip(xs, ranks, labs, chs, shs):
        m, s = marker(sh, 20)
        ax.scatter([x], [r], marker=m, s=s, color=CH_B[ch], alpha=0.82, linewidths=0, clip_on=False, zorder=3)
        ax.text(x, r, lab, ha="center", va="center", fontsize=12.5, color="#222222", clip_on=False, zorder=4)


def head(title, tx, ty, xlabel, lx, ly):
    over.text(tx, ty, title, ha="center", va="center", fontsize=18.3, fontweight="bold", color="#111111")
    over.text(lx, ly, xlabel, ha="center", va="center", fontsize=16.2, fontweight="bold", color="#111111")


def legend(ys):
    x_m, x_t = 1929, 1952
    for y, lab, col in zip(ys[:6], channels, channel_keys):
        over.scatter([x_m], [y], s=px(21) ** 2, color=col, alpha=0.9, linewidths=0)
        over.text(x_t, y, lab, va="center", fontsize=11, color="#444444")
    for y, lab, key in zip(ys[6:14], features, feature_keys):
        over.text(x_m, y, key, ha="center", va="center", fontsize=11, color="#333333")
        over.text(x_t, y, lab, va="center", fontsize=11, color="#444444")
    for y, lab, key in zip(ys[14:], compartments, compartment_keys):
        size = {"o": 21, "s": 19, "D": 14, "^": 23}[key]
        over.scatter([x_m], [y], marker=key, s=px(size) ** 2, color="#808080", linewidths=0)
        over.text(x_t, y, lab, va="center", fontsize=11, color="#444444")


# panel A
BC = "Benchmark Concentration [µM]"
ax = make_ax(99, 520, 64, 595, ((1, 227), (100, 449)), ((32, 79), (-8, 580)), 626)
ax.axhspan(-1, 1, color="#e8e8e8", lw=0, zorder=0)
ax.set_yticks(range(-8, 33, 4))
ax.set_xticks([.1, 1, 10, 100, 316], ["0.1", "1", "10", "100", "-"])
draw_series(ax, ber_series)
tested(ax, .1, 100, 599, 11, 282, 598)
axis_line(626, [(115, 460), (476, 516)], [463])
head("Berberine Chloride", 315, 26, BC, 315, 703)
over.text(23, 332, "Normalized magnitude", rotation=90, ha="center", va="center", fontsize=16.2, fontweight="bold")

ax = make_ax(583, 975, 62, 582, ((.01, 656), (10, 911)), ((7, 83), (-6, 533)), 626)
ax.axhspan(-1, 1, color="#e8e8e8", lw=0, zorder=0)
ax.set_yticks(range(-6, 8))
ax.set_xticks([.00316, .01, .1, 1, 10, 31.6], ["<", "0.01", "0.1", "1", "10", "-"])
vline(ax, 2.14, 69, 575, "#ee1133", 3)
vline(ax, 4.55, 69, 575, "#cccccc", 2.4)
draw_series(ax, ca_series)
tested(ax, .01, 10, 593, 11, 783, 592)
axis_line(626, [(597, 645), (660, 919), (934, 963)], [645, 923])
vlabel("cytotox", 842, 64)
vlabel("cytostat", 870, 64)
head("Ca-074-Me", 779, 26, BC, 779, 703)

ax = make_ax(1028, 1422, 64, 589, ((.01, 1042), (10, 1347)), ((21, 83), (-9, 559)), 626)
ax.axhspan(-1, 1, color="#e8e8e8", lw=0, zorder=0)
ax.set_yticks(range(-9, 22, 3))
ax.set_xticks([.01, .1, 1, 10, 31.6], ["0.01", "0.1", "1", "10", "-"])
vline(ax, .65, 67, 582, "#cccccc", 2.4)
draw_series(ax, eto_series)
tested(ax, .01, 10, 597, 11, 1194, 596)
axis_line(626, [(1042, 1358), (1374, 1408)], [1360])
vlabel("cytostat", 1214, 64)
head("Etoposide", 1225, 26, BC, 1225, 703)

ax = make_ax(1473, 1866, 62, 581, ((.01, 1487), (10, 1791)), ((6, 69), (-6, 543)), 626)
ax.axhspan(-1, 1, color="#e8e8e8", lw=0, zorder=0)
ax.set_yticks(range(-6, 7))
ax.set_xticks([.01, .1, 1, 10, 31.6], ["0.01", "0.1", "1", "10", "-"])
draw_series(ax, rap_series)
tested(ax, .01, 10, 592, 11, 1640, 591)
axis_line(626, [(1487, 1805), (1820, 1853)], [1808])
head("Rapamycin", 1670, 26, BC, 1670, 703)

# panel B
MB = "Median BMC [µM]"
ycal_b = ((25, 823), (0, 1312))
ax = make_ax(100, 505, 823, 1312, ((.1, 126), (100, 451)), ycal_b, 1353)
ax.set_yticks(range(0, 26, 5))
ax.set_xticks([.1, 1, 10, 100], ["0.1", "1", "10", "100"])
draw_rank(ax, b_ber_x, b_ber_lab, b_ber_ch, b_ber_sh)
tested(ax, .1, 100, 1312, 12, 288, 1321)
axis_line(1353, [(126, 505)], [])
head("Berberine Chloride", 315, 766, MB, 315, 1429)
over.text(23, 1052, "Rank of category", rotation=90, ha="center", va="center", fontsize=16.2, fontweight="bold")

ax = make_ax(583, 952, 823, 1312, ((.01, 656), (10, 952)), ycal_b, 1353)
ax.set_yticks(range(0, 26, 5))
ax.set_xticks([.00316, .01, .1, 1, 10], ["<", "0.01", "0.1", "1", "10"])
vline(ax, 2.16, 829, 1312, "#ee1133", 3)
vline(ax, 4.66, 829, 1302, "#cccccc", 2.4)
draw_rank(ax, b_ca_x, b_ca_lab, b_ca_ch, b_ca_sh)
tested(ax, .01, 10, 1312, 12, 804, 1321)
axis_line(1353, [(607, 626), (641, 952)], [627])
vlabel("cytotox", 874, 823)
vlabel("cytostat", 907, 823)
head("Ca-074-Me", 779, 766, MB, 779, 1429)

ax = make_ax(1028, 1398, 823, 1312, ((.01, 1052), (10, 1348)), ycal_b, 1353)
ax.set_yticks(range(0, 26, 5))
ax.set_xticks([.01, .1, 1, 10], ["0.01", "0.1", "1", "10"])
vline(ax, .657, 829, 1302, "#cccccc", 2.4)
draw_rank(ax, b_eto_x, b_eto_lab, b_eto_ch, b_eto_sh)
tested(ax, .01, 10, 1312, 12, 1200, 1321)
axis_line(1353, [(1052, 1398)], [])
vlabel("cytostat", 1219, 823)
head("Etoposide", 1225, 766, MB, 1224, 1429)

ax = make_ax(1473, 1843, 823, 1312, ((.01, 1497), (10, 1793)), ycal_b, 1353)
ax.set_yticks(range(0, 26, 5))
ax.set_xticks([.01, .1, 1, 10], ["0.01", "0.1", "1", "10"])
draw_rank(ax, b_rap_x, b_rap_lab, b_rap_ch, b_rap_sh)
tested(ax, .01, 10, 1312, 12, 1645, 1321)
axis_line(1353, [(1497, 1843)], [])
head("Rapamycin", 1670, 766, MB, 1669, 1429)

over.text(22, 28, "A", ha="center", va="center", fontsize=21, fontweight="bold", color="#111111")
over.text(23, 755, "B", ha="center", va="center", fontsize=21, fontweight="bold", color="#111111")

legend([61, 90, 119, 147, 176, 205, 234, 263, 292, 320, 350, 378, 407, 436, 465, 494, 522, 551])
legend([775, 804, 834, 863, 893, 922, 952, 981, 1011, 1041, 1070, 1099, 1129, 1158, 1188, 1217, 1247, 1276])

over.set_xlim(0, W)
over.set_ylim(H, 0)
fig.savefig("out.png", dpi=100)
